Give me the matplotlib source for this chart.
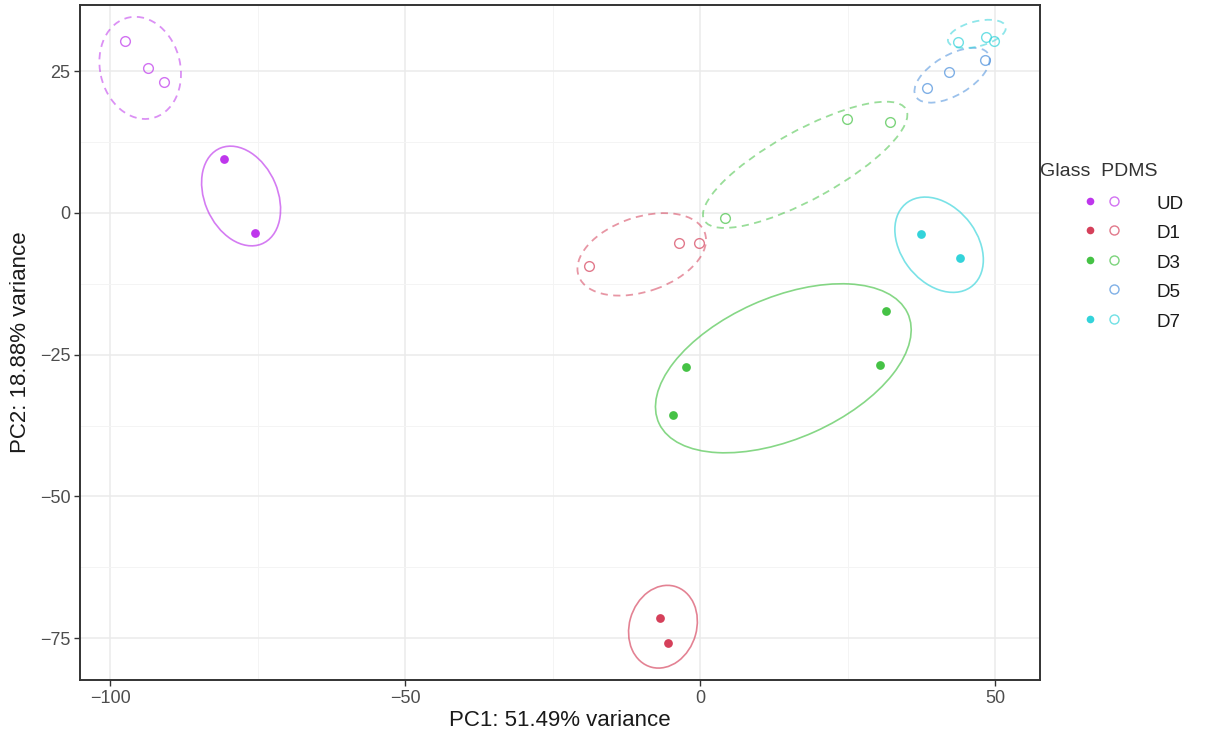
import matplotlib
matplotlib.use("Agg")
import matplotlib.pyplot as plt
from matplotlib.patches import Ellipse
from matplotlib.lines import Line2D
from matplotlib.ticker import MultipleLocator

plt.rcParams['font.family'] = ['Liberation Sans', 'DejaVu Sans']

# ---- data ----
groups = ["UD", "D1", "D3", "D5", "D7"]
colors = {"UD": "#BE36EC", "D1": "#D5405A", "D3": "#45C245", "D5": "#4A8FDC", "D7": "#33D3DA"}

glass_x = {"UD": [-80.7, -75.4], "D1": [-6.8, -5.4], "D3": [31.5, 30.5, -2.4, -4.6],
           "D5": [], "D7": [37.5, 44.1]}
glass_y = {"UD": [9.5, -3.5], "D1": [-71.4, -75.8], "D3": [-17.3, -26.8, -27.2, -35.6],
           "D5": [], "D7": [-3.7, -7.9]}
pdms_x = {"UD": [-97.5, -93.6, -90.8], "D1": [-18.8, -3.6, -0.2], "D3": [4.2, 24.9, 32.2],
          "D5": [38.5, 42.2, 48.3], "D7": [43.7, 48.5, 49.8]}
pdms_y = {"UD": [30.3, 25.6, 23.1], "D1": [-9.3, -5.3, -5.3], "D3": [-0.9, 16.6, 16.0],
          "D5": [22.0, 24.9, 27.0], "D7": [30.2, 31.0, 30.3]}

# ellipse parameters (center x, center y, full width, full height, angle in degrees)
glass_ell = {"UD": (-77.8, 3.0, 18.3, 12.4, -68), "D1": (-6.3, -73.0, 14.8, 11.4, 75),
             "D3": (14.1, -27.4, 46.4, 24.8, 25), "D7": (40.5, -5.6, 18.4, 13.0, -55)}
pdms_ell = {"UD": (-94.9, 25.6, 18.2, 13.6, -78), "D1": (-9.9, -7.3, 22.7, 13.1, 20),
            "D3": (17.8, 8.5, 39.4, 12.0, 30), "D5": (42.7, 24.3, 14.4, 7.0, 32),
            "D7": (46.9, 31.6, 10.1, 4.4, 15)}

xlabel = "PC1: 51.49% variance"
ylabel = "PC2: 18.88% variance"

# ---- figure ----
fig = plt.figure(figsize=(12.05, 7.31), dpi=100)
ax = fig.add_axes([80/1205, 1-680/731, 960/1205, 675/731])

ax.set_xlim(-105.1, 57.6)
ax.set_ylim(-82.4, 36.7)
ax.xaxis.set_major_locator(MultipleLocator(50))
ax.xaxis.set_minor_locator(MultipleLocator(25))
ax.yaxis.set_major_locator(MultipleLocator(25))
ax.yaxis.set_minor_locator(MultipleLocator(12.5))
ax.grid(which='major', color='#EBEBEB', linewidth=1.1, zorder=0)
ax.grid(which='minor', color='#F4F4F4', linewidth=0.7, zorder=0)
ax.set_axisbelow(True)
ax.tick_params(which='minor', length=0)
ax.tick_params(which='major', length=4, width=1, color='#333333',
               labelsize=13, labelcolor='#4D4D4D', pad=3)
for s in ax.spines.values():
    s.set_color('#333333')
    s.set_linewidth(1.4)

for g in groups:
    c = colors[g]
    if g in glass_ell:
        cx, cy, w, h, a = glass_ell[g]
        ax.add_patch(Ellipse((cx, cy), w, h, angle=a, fill=False, edgecolor=c,
                             alpha=0.65, linewidth=1.2, zorder=2))
    if g in pdms_ell:
        cx, cy, w, h, a = pdms_ell[g]
        ax.add_patch(Ellipse((cx, cy), w, h, angle=a, fill=False, edgecolor=c,
                             alpha=0.55, linewidth=1.3, linestyle=(0, (4, 3)), zorder=2))
    if glass_x[g]:
        ax.plot(glass_x[g], glass_y[g], 'o', color=c, markersize=6.3,
                markeredgewidth=0, linestyle='none', zorder=3)
    ax.plot(pdms_x[g], pdms_y[g], 'o', markerfacecolor='none', markeredgecolor=c,
            markersize=7, markeredgewidth=1.0, alpha=0.7, linestyle='none', zorder=3)

ax.set_xlabel(xlabel, fontsize=16, color='#1A1A1A', labelpad=2)
ax.set_ylabel(ylabel, fontsize=16, color='#1A1A1A', labelpad=6)

# ---- legend (manual) ----
fig.text(1040/1205, 1-171/731, "Glass  PDMS", fontsize=14, color='#333333',
         ha='left', va='center')
row_y = [201, 230, 260, 289, 319]
for g, ry in zip(groups, row_y):
    yf = 1 - ry/731
    c = colors[g]
    if glass_x[g]:
        fig.add_artist(Line2D([1090/1205], [yf], marker='o', color=c, markersize=5.5,
                              markeredgewidth=0, linestyle='none', transform=fig.transFigure))
    fig.add_artist(Line2D([1114/1205], [yf], marker='o', markerfacecolor='none',
                          markeredgecolor=c, markersize=6.5, markeredgewidth=1.0, alpha=0.7,
                          linestyle='none', transform=fig.transFigure))
    fig.text(1157/1205, yf - 0.005, g, fontsize=13.5, color='#1A1A1A', ha='left', va='center')

fig.savefig("out.png", dpi=100)
